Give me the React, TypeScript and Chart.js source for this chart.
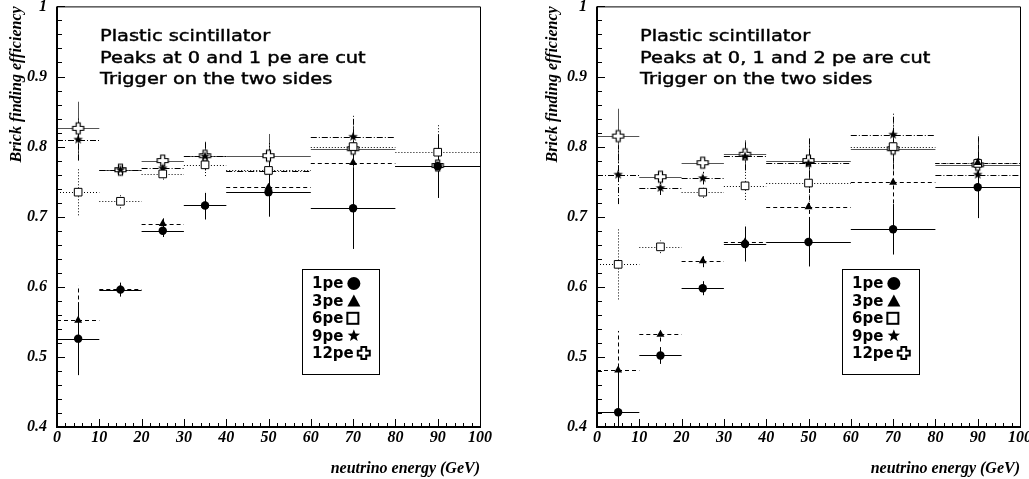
import React, { useEffect, useRef } from 'react';
import { Chart, registerables } from 'chart.js';
Chart.register(...registerables);

// ---------- data ----------
const binCenters = [5, 15, 25, 35, 50, 70, 90];
const binHalfWidths = [5, 5, 5, 5, 10, 10, 10];
const seriesNames = ['1pe', '3pe', '6pe', '9pe', '12pe'];

const left1pe = [0.526, 0.596, 0.680, 0.716, 0.735, 0.712, 0.772];
const left1peErr = [0.052, 0.010, 0.009, 0.018, 0.035, 0.058, 0.045];
const left3pe = [0.552, 0.597, 0.690, 0.716, 0.742, 0.777, 0.772];
const left3peErr = [0.050, 0.010, 0.008, 0.020, 0.040, 0.045, 0.045];
const left6pe = [0.735, 0.722, 0.761, 0.774, 0.766, 0.800, 0.792];
const left6peErr = [0.033, 0.010, 0.008, 0.016, 0.035, 0.040, 0.040];
const left9pe = [0.810, 0.767, 0.769, 0.786, 0.765, 0.814, 0.773];
const left9peErr = [0.030, 0.008, 0.008, 0.020, 0.040, 0.030, 0.040];
const left12pe = [0.826, 0.767, 0.780, 0.787, 0.787, 0.797, 0.773];
const left12peErr = [0.038, 0.008, 0.008, 0.020, 0.031, 0.030, 0.040];

const right1pe = [0.421, 0.502, 0.598, 0.661, 0.664, 0.682, 0.742];
const right1peErr = [0.055, 0.012, 0.010, 0.025, 0.035, 0.036, 0.044];
const right3pe = [0.481, 0.532, 0.637, 0.664, 0.714, 0.749, 0.777];
const right3peErr = [0.056, 0.010, 0.009, 0.025, 0.040, 0.040, 0.040];
const right6pe = [0.632, 0.657, 0.735, 0.744, 0.748, 0.800, 0.776];
const right6peErr = [0.050, 0.009, 0.008, 0.020, 0.035, 0.040, 0.040];
const right9pe = [0.760, 0.741, 0.755, 0.786, 0.776, 0.817, 0.760];
const right9peErr = [0.042, 0.010, 0.009, 0.020, 0.035, 0.030, 0.040];
const right12pe = [0.815, 0.757, 0.777, 0.789, 0.780, 0.797, 0.774];
const right12peErr = [0.039, 0.008, 0.008, 0.020, 0.032, 0.030, 0.040];

const leftTextLines = ['Plastic scintillator', 'Peaks at 0 and 1 pe are cut', 'Trigger on the two sides'];
const rightTextLines = ['Plastic scintillator', 'Peaks at 0, 1 and 2 pe are cut', 'Trigger on the two sides'];

const xTitle = 'neutrino energy (GeV)';
const yTitle = 'Brick finding efficiency';

// ---------- marker helpers ----------
function pathStar(ctx: CanvasRenderingContext2D, cx: number, cy: number, R: number) {
  const r = R * 0.42;
  ctx.beginPath();
  for (let i = 0; i < 10; i++) {
    const a = -Math.PI / 2 + (i * Math.PI) / 5;
    const rr = i % 2 === 0 ? R : r;
    const px = cx + rr * Math.cos(a);
    const py = cy + rr * Math.sin(a);
    if (i === 0) ctx.moveTo(px, py);
    else ctx.lineTo(px, py);
  }
  ctx.closePath();
}
function pathCross(ctx: CanvasRenderingContext2D, cx: number, cy: number, L: number, a: number) {
  const pts = [
    [-a, -L], [a, -L], [a, -a], [L, -a], [L, a], [a, a],
    [a, L], [-a, L], [-a, a], [-L, a], [-L, -a], [-a, -a],
  ];
  ctx.beginPath();
  pts.forEach((p, i) => (i === 0 ? ctx.moveTo(cx + p[0], cy + p[1]) : ctx.lineTo(cx + p[0], cy + p[1])));
  ctx.closePath();
}
function drawMarker(ctx: CanvasRenderingContext2D, kind: string, cx: number, cy: number, s: number) {
  ctx.save();
  ctx.setLineDash([]);
  ctx.fillStyle = '#000';
  ctx.strokeStyle = '#000';
  if (kind === 'circle') {
    ctx.beginPath();
    ctx.arc(cx, cy, s / 2, 0, Math.PI * 2);
    ctx.fill();
  } else if (kind === 'triangle') {
    ctx.beginPath();
    ctx.moveTo(cx, cy - s / 2);
    ctx.lineTo(cx + s / 2, cy + s / 2 - 1);
    ctx.lineTo(cx - s / 2, cy + s / 2 - 1);
    ctx.closePath();
    ctx.fill();
  } else if (kind === 'rect') {
    ctx.fillStyle = '#fff';
    ctx.lineWidth = 2;
    ctx.fillRect(cx - s / 2, cy - s / 2, s, s);
    ctx.strokeRect(cx - s / 2, cy - s / 2, s, s);
  } else if (kind === 'star') {
    pathStar(ctx, cx, cy, s / 2);
    ctx.fill();
  } else if (kind === 'cross') {
    pathCross(ctx, cx, cy, s / 2, s / 5);
    ctx.fillStyle = '#fff';
    ctx.fill();
    ctx.lineWidth = 2;
    ctx.stroke();
  }
  ctx.restore();
}
function makeImage(kind: string, size: number) {
  const c = document.createElement('canvas');
  c.width = size + 4;
  c.height = size + 4;
  const ctx = c.getContext('2d')!;
  const cx = c.width / 2;
  if (kind === 'star') {
    pathStar(ctx, cx, cx, size / 2);
    ctx.fillStyle = '#000';
    ctx.fill();
  } else {
    pathCross(ctx, cx, cx, size / 2, size / 5.5);
    ctx.fillStyle = '#fff';
    ctx.fill();
    ctx.strokeStyle = '#000';
    ctx.lineWidth = 1.2;
    ctx.stroke();
  }
  return c;
}

const seriesStyles = [
  { marker: 'circle', dash: [] as number[], color: '#000' },
  { marker: 'triangle', dash: [4, 3], color: '#000' },
  { marker: 'rect', dash: [1, 2], color: '#000' },
  { marker: 'star', dash: [6, 2, 1, 2], color: '#000' },
  { marker: 'cross', dash: [] as number[], color: '#555' },
];

// ---------- plugins ----------
const errorBarPlugin = {
  id: 'errorBars',
  beforeDatasetsDraw(chart: any) {
    const { ctx, chartArea, scales } = chart;
    const xs = scales.x, ys = scales.y;
    ctx.save();
    ctx.beginPath();
    ctx.rect(chartArea.left, chartArea.top, chartArea.right - chartArea.left, chartArea.bottom - chartArea.top);
    ctx.clip();
    const dsets = chart.data.datasets;
    for (let i = dsets.length - 1; i >= 0; i--) {
      const ds = dsets[i];
      ctx.setLineDash(ds.errDash);
      ctx.strokeStyle = ds.errColor;
      ctx.lineWidth = 1;
      ds.data.forEach((p: any, j: number) => {
        const px = Math.round(xs.getPixelForValue(p.x)) + 0.5;
        const py = Math.round(ys.getPixelForValue(p.y)) + 0.5;
        const x0 = xs.getPixelForValue(p.x - ds.xErr[j]);
        const x1 = xs.getPixelForValue(p.x + ds.xErr[j]);
        const y0 = ys.getPixelForValue(p.y - ds.yErr[j]);
        const y1 = ys.getPixelForValue(p.y + ds.yErr[j]);
        ctx.beginPath();
        ctx.moveTo(x0, py);
        ctx.lineTo(x1, py);
        ctx.stroke();
        ctx.beginPath();
        ctx.moveTo(px, y0);
        ctx.lineTo(px, y1);
        ctx.stroke();
      });
    }
    ctx.restore();
  },
};

const framePlugin = {
  id: 'frame',
  afterDraw(chart: any) {
    const { ctx, chartArea, scales } = chart;
    const { left, right, top, bottom } = chartArea;
    const xs = scales.x, ys = scales.y;
    ctx.save();
    ctx.setLineDash([]);
    ctx.strokeStyle = '#000';
    ctx.lineWidth = 1;
    ctx.beginPath();
    ctx.moveTo(left, top + 0.5);
    ctx.lineTo(right + 0.5, top + 0.5);
    ctx.lineTo(right + 0.5, bottom);
    ctx.stroke();
    for (let v = 0; v <= 100.001; v += 2) {
      const major = Math.abs(v / 10 - Math.round(v / 10)) < 1e-6;
      const px = Math.round(xs.getPixelForValue(v)) + 0.5;
      ctx.beginPath();
      ctx.moveTo(px, bottom);
      ctx.lineTo(px, bottom - (major ? 8 : 4));
      ctx.stroke();
    }
    for (let k = 0; k <= 30; k++) {
      const v = 0.4 + k * 0.02;
      const major = k % 5 === 0;
      const py = Math.round(ys.getPixelForValue(v)) + 0.5;
      ctx.beginPath();
      ctx.moveTo(left, py);
      ctx.lineTo(left + (major ? 8 : 5), py);
      ctx.stroke();
    }
    ctx.lineWidth = 2;
    ctx.beginPath();
    ctx.moveTo(left, top);
    ctx.lineTo(left, bottom);
    ctx.lineTo(right + 1, bottom);
    ctx.stroke();
    ctx.restore();
  },
};

const annotationPlugin = {
  id: 'annot',
  afterDatasetsDraw(chart: any, _args: any, opts: any) {
    const { ctx, chartArea, scales } = chart;
    ctx.save();
    ctx.font = '16px "DejaVu Sans"';
    ctx.fillStyle = '#000';
    ctx.strokeStyle = '#000';
    ctx.lineWidth = 0.45;
    ctx.textBaseline = 'alphabetic';
    ctx.textAlign = 'left';
    const stretch = 1.21;
    (opts.lines as string[]).forEach((t, i) => {
      ctx.save();
      ctx.translate(chartArea.left + 43, chartArea.top + 35 + i * 21.5);
      ctx.scale(stretch, 1);
      ctx.fillText(t, 0, 0);
      ctx.strokeText(t, 0, 0);
      ctx.restore();
    });
    const xs = scales.x, ys = scales.y;
    const bx0 = Math.round(xs.getPixelForValue(57.9)) + 0.5;
    const bx1 = Math.round(xs.getPixelForValue(76.1)) + 0.5;
    const by0 = Math.round(ys.getPixelForValue(0.626)) + 0.5;
    const by1 = Math.round(ys.getPixelForValue(0.475)) + 0.5;
    ctx.fillStyle = '#fff';
    ctx.fillRect(bx0, by0, bx1 - bx0, by1 - by0);
    ctx.strokeStyle = '#000';
    ctx.lineWidth = 1;
    ctx.strokeRect(bx0, by0, bx1 - bx0, by1 - by0);
    ctx.font = 'bold 15px "DejaVu Sans"';
    ctx.textBaseline = 'middle';
    const sizes = [13, 13, 11, 13, 12];
    seriesNames.forEach((name, i) => {
      const cy = by0 + 14 + i * 17.4;
      const tx = bx0 + 9.5;
      ctx.fillStyle = '#000';
      ctx.fillText(name, tx, cy + 1);
      const w = ctx.measureText(name).width;
      drawMarker(ctx, seriesStyles[i].marker, tx + w + 4 + sizes[i] / 2, cy, sizes[i]);
    });
    ctx.restore();
  },
};

// ---------- chart building ----------
const tickFont = { family: '"Liberation Serif", "Times New Roman", serif', size: 16, weight: 'bold' as const, style: 'italic' as const };

function buildConfig(series: number[][], errs: number[][], lines: string[], canvasWidth: number, yTitlePad: number) {
  const starImg = makeImage('star', 10);
  const crossImg = makeImage('cross', 11);
  const pointStyles: any[] = ['circle', 'triangle', 'rect', starImg, crossImg];
  const radii = [4.2, 4.6, 5.4, 4, 4];
  const datasets = series.map((vals, i) => ({
    label: seriesNames[i],
    data: binCenters.map((x, j) => ({ x, y: vals[j] })),
    xErr: binHalfWidths,
    yErr: errs[i],
    errDash: seriesStyles[i].dash,
    errColor: seriesStyles[i].color,
    showLine: false,
    pointStyle: pointStyles[i],
    pointRadius: radii[i],
    pointBackgroundColor: i === 2 ? '#fff' : '#000',
    pointBorderColor: '#000',
    pointBorderWidth: i === 2 ? 1 : 0,
  }));
  return {
    type: 'scatter' as const,
    data: { datasets },
    options: {
      animation: false,
      responsive: false,
      devicePixelRatio: 1,
      layout: { padding: { top: 4, right: canvasWidth - 480, left: 0, bottom: 0 } },
      plugins: {
        legend: { display: false },
        tooltip: { enabled: false },
        annot: { lines },
      },
      scales: {
        x: {
          type: 'linear',
          position: 'bottom',
          min: 0,
          max: 100,
          grid: { display: false, drawTicks: false },
          border: { display: false },
          ticks: { stepSize: 10, font: tickFont, color: '#000', padding: 1, maxRotation: 0, autoSkip: false },
          title: { display: true, text: xTitle, align: 'end', color: '#000', font: tickFont, padding: { top: 0, bottom: 1 } },
          afterFit: (s: any) => {
            s.height = 52;
            s.paddingLeft = 0;
            s.paddingRight = 0;
          },
        },
        y: {
          type: 'linear',
          min: 0.4,
          max: 1,
          grid: { display: false, drawTicks: false },
          border: { display: false },
          ticks: {
            stepSize: 0.1,
            font: tickFont,
            color: '#000',
            padding: 10,
            callback: (v: number) => String(parseFloat(v.toFixed(1))),
          },
          title: { display: true, text: yTitle, align: 'end', color: '#000', font: tickFont, padding: { top: yTitlePad, bottom: 0 } },
          afterFit: (s: any) => {
            s.width = 57;
            s.paddingTop = 0;
            s.paddingBottom = 0;
          },
        },
      },
    },
    plugins: [errorBarPlugin, framePlugin, annotationPlugin],
  };
}

function Panel(props: { left: number; width: number; series: number[][]; errs: number[][]; lines: string[]; yTitlePad: number }) {
  const ref = useRef<HTMLCanvasElement>(null);
  useEffect(() => {
    const chart = new Chart(ref.current!, buildConfig(props.series, props.errs, props.lines, props.width, props.yTitlePad) as any);
    return () => chart.destroy();
  }, []);
  return (
    <canvas
      ref={ref}
      width={props.width}
      height={479}
      style={{ position: 'absolute', left: props.left, top: 0, width: props.width, height: 479 }}
    />
  );
}

export default function App() {
  return (
    <div style={{ position: 'absolute', left: 0, top: 0, width: 1029, height: 479, background: '#fff', overflow: 'hidden' }}>
      <Panel
        left={0}
        width={514}
        series={[left1pe, left3pe, left6pe, left9pe, left12pe]}
        errs={[left1peErr, left3peErr, left6peErr, left9peErr, left12peErr]}
        lines={leftTextLines}
        yTitlePad={7}
      />
      <Panel
        left={540}
        width={489}
        series={[right1pe, right3pe, right6pe, right9pe, right12pe]}
        errs={[right1peErr, right3peErr, right6peErr, right9peErr, right12peErr]}
        lines={rightTextLines}
        yTitlePad={3}
      />
    </div>
  );
}
